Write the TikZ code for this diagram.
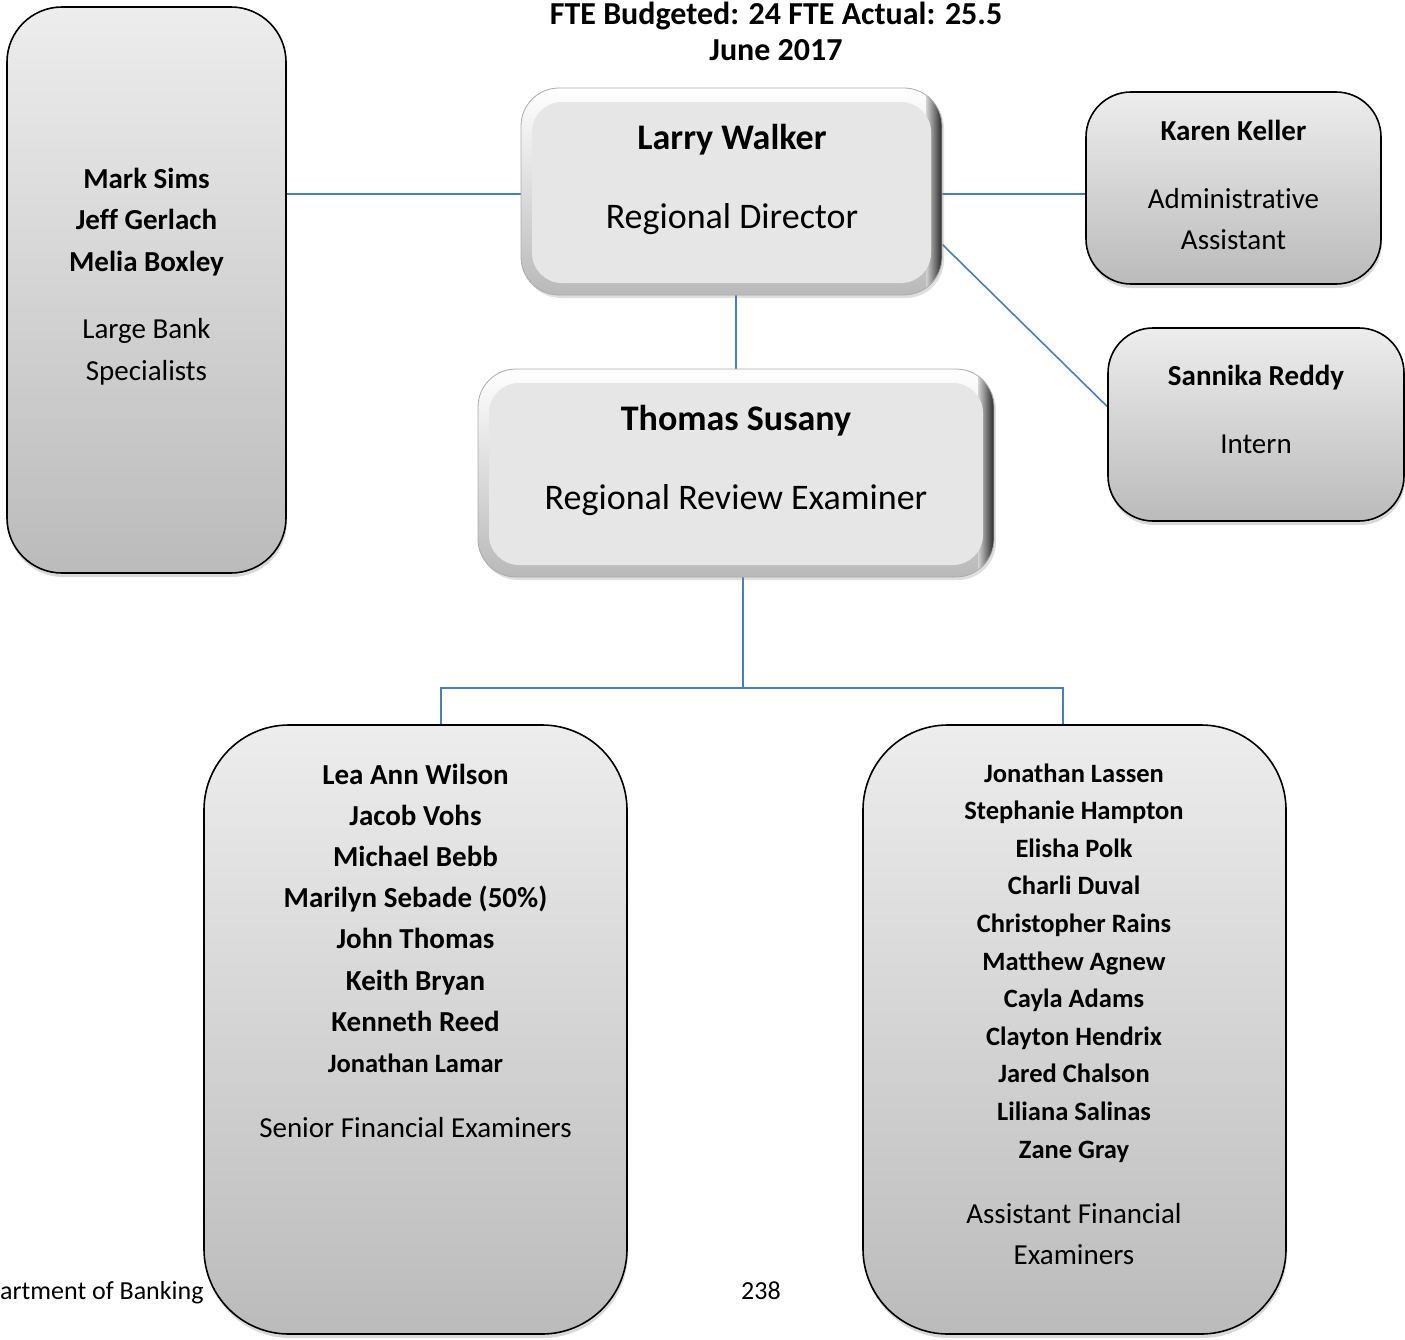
\documentclass[tikz,border=0pt]{standalone}
\usepackage{fontspec}
\setmainfont{Carlito}[Ligatures=NoCommon]
\usetikzlibrary{shadows,calc}
\pgfdeclarelayer{background}
\pgfsetlayers{background,main}
\definecolor{linkblue}{RGB}{74,126,187}
\definecolor{face}{RGB}{230,230,230}
\definecolor{gtop}{RGB}{237,237,237}
\definecolor{gbot}{RGB}{187,187,187}
\begin{document}
\begin{tikzpicture}[x=1pt,y=-1pt,
  link/.style={draw=linkblue, line width=1.6pt},
  gradbox/.style={draw=black, line width=1.6pt, top color=gtop, bottom color=gbot,
    inner sep=0pt, drop shadow={opacity=0.3, shadow xshift=1pt, shadow yshift=-4pt}},
  bevelbox/.style={inner sep=0pt, fill=gray!45, draw=gray!65, line width=0.8pt,
    drop shadow={opacity=0.25, shadow xshift=2pt, shadow yshift=-3pt},
    path picture={
      \shade[sharp corners, top color=white, bottom color=gray!55]
        (path picture bounding box.north west) rectangle (path picture bounding box.south east);
      \shade[sharp corners, left color=gray!35, right color=black!85]
        ([xshift=-16pt]path picture bounding box.north east) rectangle (path picture bounding box.south east);
      \fill[face, rounded corners=30pt]
        ([xshift=11pt,yshift=-14pt]path picture bounding box.north west) rectangle
        ([xshift=-11pt,yshift=12pt]path picture bounding box.south east);
    }},
  txt/.style={anchor=base, inner sep=0pt},
  bigb/.style={txt, font=\fontsize{36}{43}\selectfont\bfseries},
  bigr/.style={txt, font=\fontsize{36}{43}\selectfont},
  midb/.style={txt, font=\fontsize{29}{35}\selectfont\bfseries},
  midr/.style={txt, font=\fontsize{29}{35}\selectfont},
  smallb/.style={txt, font=\fontsize{26.5}{32}\selectfont\bfseries},
  titleb/.style={txt, font=\fontsize{32}{38}\selectfont\bfseries},
  foot/.style={txt, font=\fontsize{26}{31}\selectfont}
]
\useasboundingbox (0,0) rectangle (1405,1339);

% boxes
\node[gradbox, rounded corners=55pt, minimum width=279pt, minimum height=566pt] (LB) at (146.5,290) {};
\node[bevelbox, rounded corners=38pt, minimum width=421pt, minimum height=207pt] (L) at (731.5,191.5) {};
\node[gradbox, rounded corners=45pt, minimum width=295pt, minimum height=192pt] (K) at (1233.5,188) {};
\node[gradbox, rounded corners=45pt, minimum width=296pt, minimum height=193pt] (S) at (1256,424.5) {};
\node[bevelbox, rounded corners=38pt, minimum width=516pt, minimum height=208pt] (T) at (736,473) {};
\node[gradbox, rounded corners=85pt, minimum width=423pt, minimum height=609pt] (BL) at (415.5,1029.5) {};
\node[gradbox, rounded corners=85pt, minimum width=423pt, minimum height=609pt] (BR) at (1074.5,1029.5) {};

% connectors
\begin{pgfonlayer}{background}
\coordinate (lj) at ($(L.west)+(0,2.5)$);
\coordinate (rj) at ($(L.east)+(0,2.5)$);
\draw[link] (lj) -- (lj -| LB.east);
\draw[link] (rj) -- (rj -| K.west);
\draw[link] ($(L.east)+(0,53)$) -- ($(S.west)+(0,-18)$);
\draw[link] (L.south -| T.north) -- (T.north);
\coordinate (bus) at (743,688);
\draw[link] ($(T.south)+(7,0)$) -- (bus);
\draw[link] (bus) -| ($(BL.north)+(25.5,0)$);
\draw[link] (bus) -| ($(BR.north)+(-11.5,0)$);
\end{pgfonlayer}

% heading
\node[titleb] (h1) at (776,24) {FTE Budgeted: 24 FTE Actual: 25.5};
\node[titleb] (h2) at (776,60) {June 2017};

% director
\node[bigb] (lw) at (732,149) {Larry Walker};
\node[bigr] (lwr) at (732,228) {Regional Director};

% review examiner
\node[bigb] (ts) at (736,430) {Thomas Susany};
\node[bigr] (tsr) at (736,509) {Regional Review Examiner};

% assistant and intern
\node[midb] (kk) at (1233.5,140) {Karen Keller};
\node[midr] (kk1) at (1233.5,208) {Administrative};
\node[midr] (kk2) at (1233.5,249) {Assistant};
\node[midb] (sr) at (1256,385) {Sannika Reddy};
\node[midr] (srr) at (1256,453) {Intern};

% large bank specialists
\node[midb] (lb1) at (146.5,188) {Mark Sims};
\node[midb] (lb2) at (146.5,229) {Jeff Gerlach};
\node[midb] (lb3) at (146.5,271) {Melia Boxley};
\node[midr] (lb4) at (146.5,338) {Large Bank};
\node[midr] (lb5) at (146.5,380) {Specialists};

% senior financial examiners
\foreach \name [count=\i] in {Lea Ann Wilson, Jacob Vohs, Michael Bebb,
    Marilyn Sebade (50\%), John Thomas, Keith Bryan, Kenneth Reed}
  \node[midb] (sf\i) at (415.5,{784+41.2*(\i-1)}) {\name};
\node[smallb] (sf8) at (415.5,1072) {Jonathan Lamar};
\node[midr] (sfr) at (415.5,1137) {Senior Financial Examiners};

% assistant financial examiners
\foreach \name [count=\i] in {Jonathan Lassen, Stephanie Hampton, Elisha Polk,
    Charli Duval, Christopher Rains, Matthew Agnew, Cayla Adams,
    Clayton Hendrix, Jared Chalson, Liliana Salinas, Zane Gray}
  \node[smallb] (af\i) at (1074,{782+37.6*(\i-1)}) {\name};
\node[midr] (afr1) at (1074,1223) {Assistant Financial};
\node[midr] (afr2) at (1074,1264) {Examiners};

% page footer
\node[foot, anchor=base west] (f1) at (0,1299) {artment of Banking};
\node[foot] (f2) at (761,1299) {238};
\end{tikzpicture}
\end{document}
